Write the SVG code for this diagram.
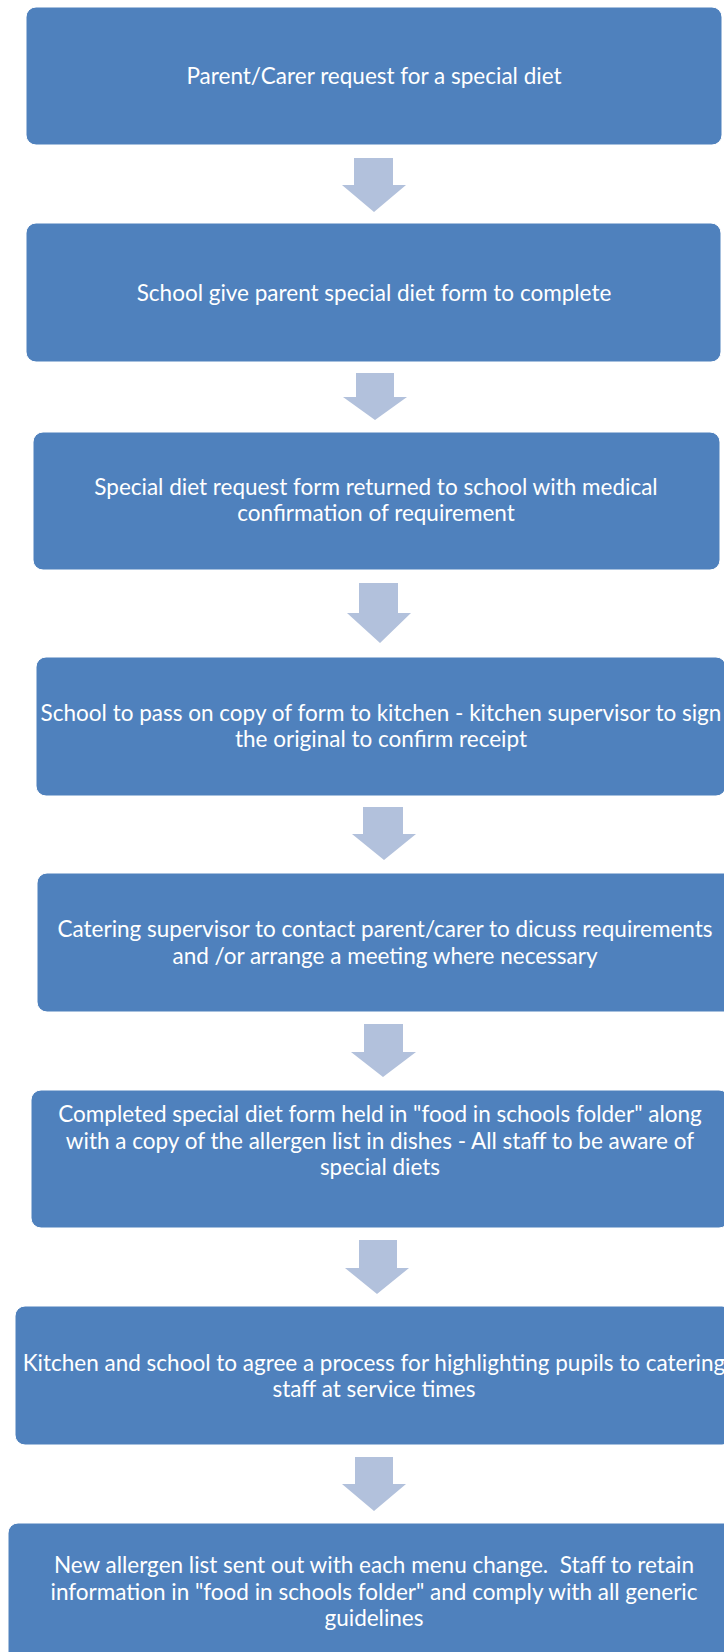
<svg xmlns="http://www.w3.org/2000/svg" width="724" height="1652" viewBox="0 0 724 1652">
<style>
.box{fill:#4F81BD;stroke:#FFFFFF;stroke-width:1}
.arrow{fill:#B2C1DC}
.t{font-family:Lato,"Liberation Sans",Arial,sans-serif;font-size:22.5px;fill:#FFFFFF;text-anchor:middle;white-space:pre}
</style>
<rect width="724" height="1652" fill="#FFFFFF"/>
<g id="connectors">
<polygon class="arrow" points="354,158 393,158 393,185 406,185 374,212 342,185 354,185"/>
<polygon class="arrow" points="356,373 394,373 394,397 407,397 375,420 343,397 356,397"/>
<polygon class="arrow" points="359,583 398,583 398,613 411,613 380,643 347,613 359,613"/>
<polygon class="arrow" points="363,807 403,807 403,834 416,834 384,860 352,834 363,834"/>
<polygon class="arrow" points="364,1024 403,1024 403,1052 416,1052 383,1077 351,1052 364,1052"/>
<polygon class="arrow" points="359,1240 397,1240 397,1268 409,1268 377,1294 345,1268 359,1268"/>
<polygon class="arrow" points="355,1457 393,1457 393,1484 406,1484 374,1511 342,1484 355,1484"/>
</g>
<g id="node1">
<rect class="box" x="26" y="7" width="696" height="138" rx="10"/>
<text class="t" x="374" y="84">Parent/Carer request for a special diet</text>
</g>
<g id="node2">
<rect class="box" x="26" y="223" width="695" height="139" rx="10"/>
<text class="t" x="374" y="301">School give parent special diet form to complete</text>
</g>
<g id="node3">
<rect class="box" x="33" y="432" width="687" height="138" rx="10"/>
<text class="t" x="376" y="495">Special diet request form returned to school with medical</text>
<text class="t" x="376" y="521">confirmation of requirement</text>
</g>
<g id="node4">
<rect class="box" x="36" y="657" width="690" height="139" rx="10"/>
<text class="t" x="381" y="721">School to pass on copy of form to kitchen - kitchen supervisor to sign</text>
<text class="t" x="381" y="747">the original to confirm receipt</text>
</g>
<g id="node5">
<rect class="box" x="37" y="873" width="697" height="139" rx="10"/>
<text class="t" x="385" y="937">Catering supervisor to contact parent/carer to dicuss requirements</text>
<text class="t" x="385" y="964">and /or arrange a meeting where necessary</text>
</g>
<g id="node6">
<rect class="box" x="31" y="1090" width="698" height="138" rx="10"/>
<text class="t" x="380" y="1122">Completed special diet form held in "food in schools folder" along</text>
<text class="t" x="380" y="1149">with a copy of the allergen list in dishes - All staff to be aware of</text>
<text class="t" x="380" y="1175">special diets</text>
</g>
<g id="node7">
<rect class="box" x="15" y="1306" width="717" height="139" rx="10"/>
<text class="t" x="374" y="1371">Kitchen and school to agree a process for highlighting pupils to catering</text>
<text class="t" x="374" y="1397">staff at service times</text>
</g>
<g id="node8">
<rect class="box" x="8" y="1523" width="732" height="150" rx="10"/>
<text class="t" x="374" y="1573" xml:space="preserve">New allergen list sent out with each menu change.  Staff to retain</text>
<text class="t" x="374" y="1600">information in "food in schools folder" and comply with all generic</text>
<text class="t" x="374" y="1626">guidelines</text>
</g>
</svg>
